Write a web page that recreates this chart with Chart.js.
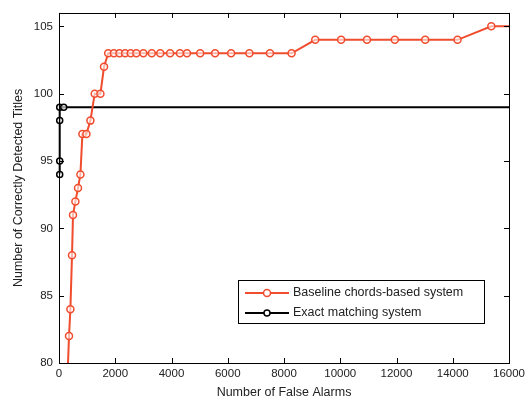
<!DOCTYPE html>
<html>
<head>
<meta charset="utf-8">
<script src="https://cdn.jsdelivr.net/npm/chart.js@4/dist/chart.umd.min.js"></script>
<style>
html,body{margin:0;padding:0;background:#fff;}
canvas{display:block;}
</style>
</head>
<body>
<canvas id="c" width="529" height="405"></canvas>
<script>
// ---- data ----
const baselineX = [285, 356, 405, 463, 498, 583, 676, 761, 832, 975, 1117, 1270, 1473, 1601,
  1750, 1950, 2150, 2350, 2550, 2750, 3000, 3300, 3600, 3950, 4300, 4550, 5020, 5550, 6120, 6770, 7500, 8270,
  9110, 10030, 10950, 11940, 13020, 14170, 15370, 16500];
const baselineY = [78, 82, 84, 88, 91, 92, 93, 94, 97, 97, 98, 100, 100, 102,
  103, 103, 103, 103, 103, 103, 103, 103, 103, 103, 103, 103, 103, 103, 103, 103, 103, 103,
  104, 104, 104, 104, 104, 104, 105, 105];
const exactX = [25, 25, 25, 25, 167, 17000];
const exactY = [94, 95, 98, 99, 99, 99];
const xTicks = [0, 2000, 4000, 6000, 8000, 10000, 12000, 14000, 16000];
const yTicks = [80, 85, 90, 95, 100, 105];
const seriesNames = ['Baseline chords-based system', 'Exact matching system'];
const xTitle = 'Number of False Alarms';
const yTitle = 'Number of Correctly Detected Titles';

const RED = '#f04c2e';
const FONT = "'Liberation Sans', Arial, sans-serif";
const TXT = '#222';

const toPts = (xs, ys) => xs.map((x, i) => ({x: x, y: ys[i]}));

const framePlugin = {
  id: 'frame',
  afterDatasetsDraw(chart) {
    const {ctx, chartArea: a, scales} = chart;
    ctx.save();
    ctx.strokeStyle = '#000';
    ctx.lineWidth = 1;
    ctx.strokeRect(Math.round(a.left) + 0.5, Math.round(a.top) + 0.5,
      Math.round(a.right - a.left), Math.round(a.bottom - a.top));
    const tl = 5;
    ctx.beginPath();
    scales.x.ticks.forEach(t => {
      const px = Math.round(scales.x.getPixelForValue(t.value)) + 0.5;
      ctx.moveTo(px, a.bottom); ctx.lineTo(px, a.bottom - tl);
      ctx.moveTo(px, a.top); ctx.lineTo(px, a.top + tl);
    });
    scales.y.ticks.forEach(t => {
      const py = Math.round(scales.y.getPixelForValue(t.value)) + 0.5;
      ctx.moveTo(a.left, py); ctx.lineTo(a.left + tl, py);
      ctx.moveTo(a.right, py); ctx.lineTo(a.right - tl, py);
    });
    ctx.stroke();

    // legend box
    const bx = 238, by = 280, bw = 246, bh = 43;
    ctx.fillStyle = '#fff';
    ctx.fillRect(bx, by, bw, bh);
    ctx.strokeRect(bx + 0.5, by + 0.5, bw, bh);
    const rows = [
      {c: RED, lw: 2, r: 3.5, y: by + 13},
      {c: '#000', lw: 2, r: 3, y: by + 33}
    ];
    ctx.font = '12.5px ' + FONT;
    ctx.textBaseline = 'middle';
    rows.forEach((r, i) => {
      ctx.strokeStyle = r.c;
      ctx.lineWidth = r.lw;
      ctx.beginPath();
      ctx.moveTo(bx + 7, r.y); ctx.lineTo(bx + 51, r.y);
      ctx.stroke();
      ctx.lineWidth = 1.5;
      ctx.fillStyle = '#fff';
      ctx.beginPath();
      ctx.arc(bx + 29, r.y, r.r, 0, Math.PI * 2);
      ctx.fill(); ctx.stroke();
      ctx.fillStyle = TXT;
      ctx.fillText(seriesNames[i], bx + 55, r.y);
    });
    ctx.restore();
  }
};

new Chart(document.getElementById('c'), {
  type: 'line',
  data: {
    datasets: [
      {
        label: seriesNames[0],
        data: toPts(baselineX, baselineY),
        borderColor: RED,
        borderWidth: 2,
        pointRadius: 3.5,
        pointBorderWidth: 1.5,
        pointBorderColor: RED,
        pointBackgroundColor: 'rgba(255,255,255,0.6)',
        tension: 0,
        clip: {left: 0, top: 0, right: 0, bottom: 0}
      },
      {
        label: seriesNames[1],
        data: toPts(exactX, exactY),
        borderColor: '#000',
        borderWidth: 2,
        pointRadius: 3,
        pointBorderWidth: 1.5,
        pointBorderColor: '#000',
        pointBackgroundColor: 'rgba(255,255,255,0.6)',
        tension: 0,
        clip: {left: 6, top: 0, right: 0, bottom: 0}
      }
    ]
  },
  options: {
    responsive: false,
    animation: false,
    devicePixelRatio: 1,
    layout: {padding: {top: 7, right: 19, left: 0, bottom: 0}},
    plugins: {legend: {display: false}, tooltip: {enabled: false}},
    scales: {
      x: {
        type: 'linear',
        min: 0, max: 16000,
        afterBuildTicks: s => { s.ticks = xTicks.map(v => ({value: v})); },
        afterFit: s => { s.height = 42; },
        grid: {display: false, drawTicks: false},
        border: {display: false},
        ticks: {font: {family: FONT, size: 11.5}, color: TXT, padding: 4, maxRotation: 0, autoSkip: false,
          callback: v => String(v)},
        title: {display: true, text: xTitle, font: {family: FONT, size: 12.5}, color: TXT, padding: {top: 0, bottom: 5}}
      },
      y: {
        type: 'linear',
        min: 80, max: 106,
        afterBuildTicks: s => { s.ticks = yTicks.map(v => ({value: v})); },
        afterFit: s => { s.width = 59; },
        grid: {display: false, drawTicks: false},
        border: {display: false},
        ticks: {font: {family: FONT, size: 11.5}, color: TXT, padding: 6, callback: v => String(v)},
        title: {display: true, text: yTitle, font: {family: FONT, size: 12.5}, color: TXT, padding: {top: 11, bottom: 0}}
      }
    }
  },
  plugins: [framePlugin]
});
</script>
</body>
</html>
